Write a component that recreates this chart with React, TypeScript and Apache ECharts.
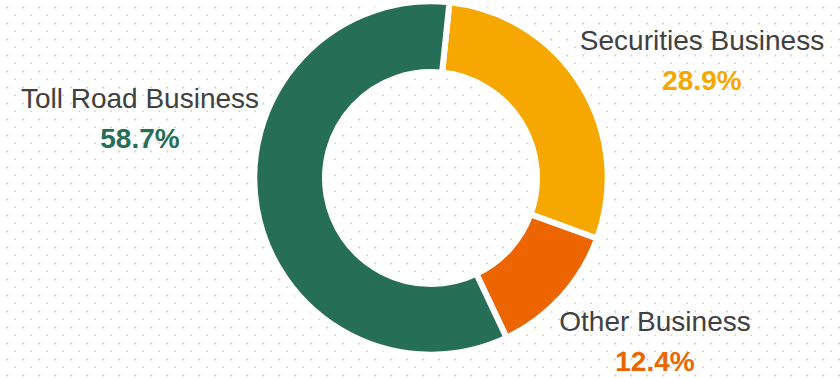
import React, { useEffect, useRef } from "react";
import * as echarts from "echarts";

const categories = ["Securities Business", "Other Business", "Toll Road Business"];
const values = [28.9, 12.4, 58.7];
const colors = ["#F6A800", "#EC6500", "#266F56"];
const labelPos: [number, number][] = [[702, 60.5], [655, 341], [140, 118]];

const dotSvg =
  "data:image/svg+xml," +
  encodeURIComponent(
    "<svg xmlns='http://www.w3.org/2000/svg' width='16' height='16'>" +
      "<rect x='6.3' y='6.5' width='2' height='2' fill='#d2d2d2'/>" +
      "<rect x='14.3' y='14.5' width='2' height='2' fill='#d2d2d2'/>" +
      "</svg>"
  );

export default function App() {
  const ref = useRef<HTMLDivElement>(null);
  useEffect(() => {
    document.body.style.margin = "0";
    const chart = echarts.init(ref.current!, null, { renderer: "svg" });
    const rich: any = {
      n: { fontFamily: "Liberation Sans", fontSize: 28, color: "#404040", lineHeight: 40, align: "center" },
    };
    colors.forEach((c, i) => {
      rich["v" + i] = { fontFamily: "Liberation Sans", fontSize: 28, fontWeight: "bold", color: c, lineHeight: 40, align: "center" };
    });
    chart.setOption({
      animation: false,
      series: [
        {
          type: "pie",
          center: [431, 178],
          radius: [106, 176.7],
          startAngle: 84,
          clockwise: true,
          avoidLabelOverlap: false,
          itemStyle: { borderColor: "#ffffff", borderWidth: 6 },
          emphasis: { disabled: true },
          labelLine: { show: false },
          label: {
            show: true,
            position: "outside",
            formatter: (p: any) => `{n|${p.name}}\n{v${p.dataIndex}|${p.value}%}`,
            rich,
          },
          labelLayout: (p: any) => ({
            x: labelPos[p.dataIndex][0],
            y: labelPos[p.dataIndex][1],
            align: "center",
            verticalAlign: "middle",
          }),
          data: categories.map((c, i) => ({ name: c, value: values[i], itemStyle: { color: colors[i] } })),
        },
      ],
    });
    return () => chart.dispose();
  }, []);
  return (
    <div
      ref={ref}
      style={{
        position: "absolute",
        left: 0,
        top: 0,
        width: 840,
        height: 378,
        backgroundColor: "#ffffff",
        backgroundImage: `url("${dotSvg}")`,
        backgroundSize: "16px 16px",
        backgroundRepeat: "repeat",
      }}
    />
  );
}
